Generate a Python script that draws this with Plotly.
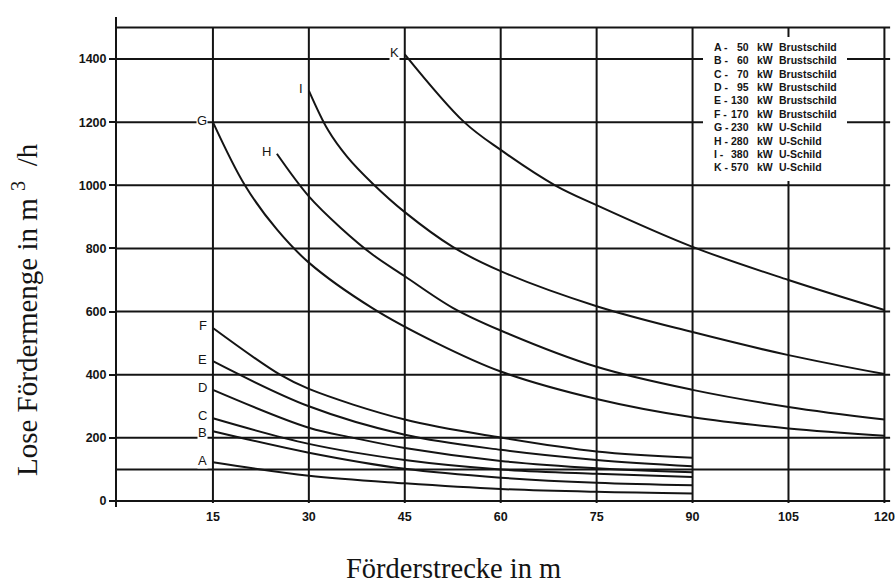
import plotly.graph_objects as go

# ---------------- data ----------------
A_x = [15, 30, 45, 60, 75, 90]
A_y = [123, 80, 56, 38, 29, 24]
B_x = [15, 30, 45, 60, 75, 90]
B_y = [221, 153, 102, 74, 58, 50]
C_x = [15, 30, 45, 60, 75, 90]
C_y = [262, 181, 130, 100, 86, 76]
D_x = [15, 30, 37, 45, 60, 75, 90]
D_y = [352, 232, 200, 168, 127, 104, 91]
E_x = [15, 30, 45, 60, 75, 90]
E_y = [443, 300, 210, 162, 130, 110]
F_x = [15, 25.5, 30, 45, 60, 75, 90]
F_y = [548, 400, 355, 258, 201, 157, 137]
G_x = [15, 20, 25, 30, 40, 50, 60, 75, 90, 105, 120]
G_y = [1200, 1000, 860, 755, 610, 500, 410, 323, 265, 230, 207]
H_x = [25, 30, 35, 40, 45, 52.5, 60, 75, 90, 105, 120]
H_y = [1100, 965, 865, 780, 712, 612, 540, 425, 352, 298, 258]
I_x = [30, 33, 36, 40, 45, 52.5, 60, 75, 90, 105, 120]
I_y = [1300, 1175, 1090, 1005, 915, 805, 728, 617, 535, 462, 402]
K_x = [45, 54.3, 60, 68.5, 75, 90, 105, 120]
K_y = [1415, 1200, 1112, 1000, 937, 805, 700, 605]

curve_labels = ["A", "B", "C", "D", "E", "F", "G", "H", "I", "K"]
curve_xs = [A_x, B_x, C_x, D_x, E_x, F_x, G_x, H_x, I_x, K_x]
curve_ys = [A_y, B_y, C_y, D_y, E_y, F_y, G_y, H_y, I_y, K_y]

legend_letters = ["A", "B", "C", "D", "E", "F", "G", "H", "I", "K"]
legend_kw = ["50", "60", "70", "95", "130", "170", "230", "280", "380", "570"]
legend_type = ["Brustschild", "Brustschild", "Brustschild", "Brustschild",
               "Brustschild", "Brustschild", "U-Schild", "U-Schild",
               "U-Schild", "U-Schild"]

x_ticks = [15, 30, 45, 60, 75, 90, 105, 120]
y_ticks = [0, 200, 400, 600, 800, 1000, 1200, 1400]
grid_x = [15, 30, 45, 60, 75, 90, 105, 120]
grid_y = [0, 100, 200, 400, 600, 800, 1000, 1200, 1400, 1500]

x_title = "Förderstrecke in m"
y_title = "Lose Fördermenge in m <sup>3</sup>  /h"

# ---------------- layout geometry (page pixels; body margin removed) ----------------
W, H = 895, 585
ML, MR, MT, MB = 117, 1, 17, 78
XR = [0, 121.5]
YR = [-19, 1533]
PW = W - ML - MR
PH = H - MT - MB


def px2x(px):  # page pixel -> data x
    return XR[0] + (px - ML) / PW * (XR[1] - XR[0])


def px2y(py):  # page pixel -> data y
    return YR[0] + (H - MB - py) / PH * (YR[1] - YR[0])


def paperx(px):
    return (px - ML) / PW


def papery(py):
    return (H - MB - py) / PH


INK = "#141414"
fig = go.Figure()

for name, xs, ys in zip(curve_labels, curve_xs, curve_ys):
    fig.add_trace(go.Scatter(x=xs, y=ys, mode="lines", name=name,
                             line=dict(color=INK, width=2, shape="spline", smoothing=1.0),
                             showlegend=False, hoverinfo="skip"))

shapes = []
for gx in grid_x:
    shapes.append(dict(type="line", xref="x", yref="y", x0=gx, x1=gx, y0=-6, y1=grid_y[-1],
                       line=dict(color=INK, width=2), layer="below"))
for gy in grid_y:
    shapes.append(dict(type="line", xref="paper", yref="y", x0=0, x1=0.995, y0=gy, y1=gy,
                       line=dict(color=INK, width=2), layer="below"))
# white box behind the key
shapes.append(dict(type="rect", xref="x", yref="y", x0=px2x(703), x1=px2x(847),
                   y0=px2y(181), y1=px2y(37), fillcolor="white",
                   line=dict(width=0), layer="above"))

annotations = []
label_font = dict(family="Liberation Sans, Arial, sans-serif", size=13, color=INK)
label_yshift = {"B": -1, "C": 3}
for name, xs, ys in zip(curve_labels, curve_xs, curve_ys):
    annotations.append(dict(x=xs[0], y=ys[0], xref="x", yref="y", text=name,
                            showarrow=False, xanchor="right", yanchor="middle",
                            xshift=-5, yshift=label_yshift.get(name, 2), font=label_font,
                            bgcolor="white", borderpad=0))

key_font = dict(family="Liberation Sans, Arial, sans-serif", size=10.5, color=INK)
for i in range(len(legend_letters)):
    ry = px2y(46.7 + 13.4 * i)
    annotations.append(dict(x=px2x(712), y=ry, text="<b>%s -</b>" % legend_letters[i],
                            showarrow=False, xanchor="left", yanchor="middle", font=key_font))
    annotations.append(dict(x=px2x(751), y=ry, text="<b>%s</b>" % legend_kw[i],
                            showarrow=False, xanchor="right", yanchor="middle", font=key_font))
    annotations.append(dict(x=px2x(755), y=ry, text="<b>kW</b>",
                            showarrow=False, xanchor="left", yanchor="middle", font=key_font))
    annotations.append(dict(x=px2x(777), y=ry, text="<b>%s</b>" % legend_type[i],
                            showarrow=False, xanchor="left", yanchor="middle", font=key_font))

serif = "Liberation Serif, Times New Roman, serif"
annotations.append(dict(x=paperx(453), y=papery(568), xref="paper", yref="paper",
                        text=x_title, showarrow=False, xanchor="center", yanchor="middle",
                        font=dict(family=serif, size=28.5, color=INK)))
annotations.append(dict(x=paperx(25), y=papery(310), xref="paper", yref="paper",
                        text=y_title, showarrow=False, xanchor="center", yanchor="middle",
                        textangle=-90, font=dict(family=serif, size=29, color=INK)))

tick_font = dict(family="Liberation Sans, Arial, sans-serif", size=12.5, color=INK)
fig.update_layout(
    width=W, height=H,
    margin=dict(l=ML, r=MR, t=MT, b=MB, pad=0),
    paper_bgcolor="white", plot_bgcolor="white",
    shapes=shapes, annotations=annotations,
    showlegend=False,
    xaxis=dict(range=XR, tickmode="array", tickvals=x_ticks,
               ticktext=["<b>%d</b>" % v for v in x_ticks],
               showgrid=False, zeroline=False, showline=False, ticks="",
               tickfont=tick_font, fixedrange=True),
    yaxis=dict(range=YR, tickmode="array", tickvals=y_ticks,
               ticktext=["<b>%d</b>" % v for v in y_ticks],
               showgrid=False, zeroline=False, showline=True, linecolor=INK, linewidth=2,
               ticks="outside", ticklen=6, tickwidth=1.5, tickcolor=INK,
               tickfont=tick_font, fixedrange=True),
)

fig.write_html("out.html", config={"displayModeBar": False},
               post_script="document.body.style.margin='0';document.body.style.overflow='hidden';")
